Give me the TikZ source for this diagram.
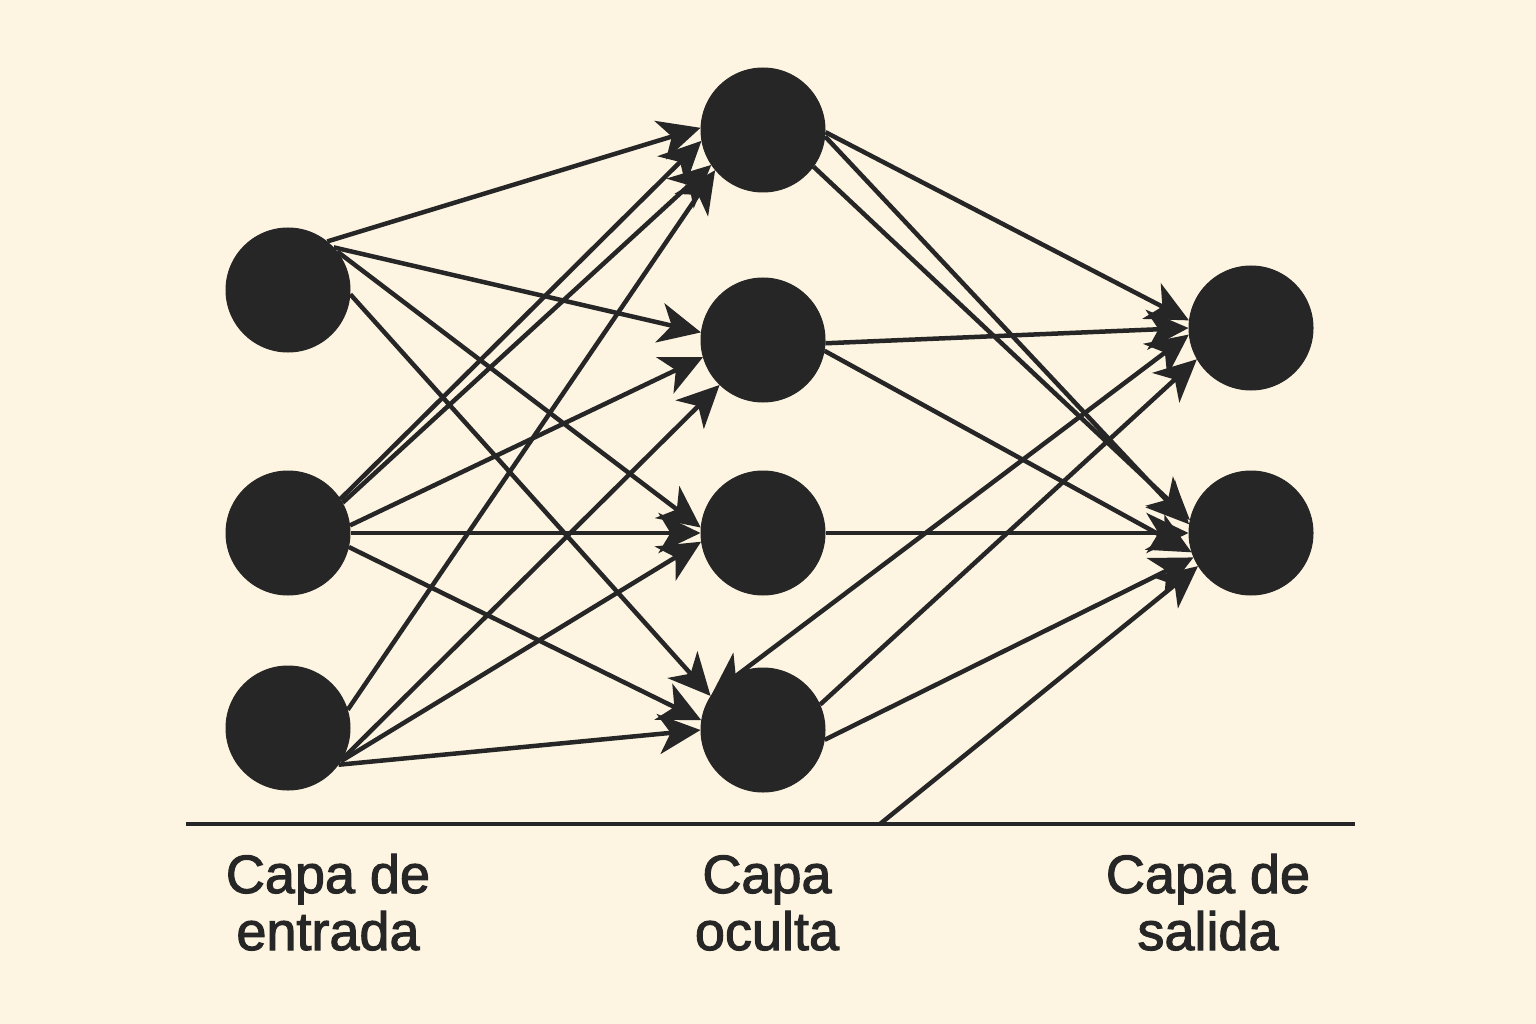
\documentclass[tikz,border=0pt]{standalone}
\usepackage{fontspec}
\setmainfont{Liberation Sans}
\newfontfamily\lblfont{Liberation Sans}[FakeBold=2]
\usetikzlibrary{arrows.meta}
\definecolor{bgc}{HTML}{FDF5E2}
\definecolor{ink}{HTML}{262626}
\tikzset{
  neuron/.style={circle,fill=ink,draw=ink,line width=1pt,minimum size=124pt,inner sep=0pt},
  tipk/.tip={Stealth[length=42pt,width=40pt,inset=12pt]},
  conn/.style={draw=ink,line width=4.5pt,-tipk},
  biconn/.style={draw=ink,line width=4.5pt,tipk-tipk},
  lbl/.style={text=ink,align=center,font=\lblfont\fontsize{54}{57}\selectfont,inner sep=0pt,anchor=base}
}
\begin{document}
\begin{tikzpicture}[x=1pt,y=-1pt]
\fill[bgc] (0,0) rectangle (1536,1024);
\useasboundingbox (0,0) rectangle (1536,1024);
% nodes
\node[neuron] (i1) at (288,290) {};
\node[neuron] (i2) at (288,533) {};
\node[neuron] (i3) at (288,728) {};
\node[neuron] (h1) at (763,130) {};
\node[neuron] (h2) at (763,340) {};
\node[neuron] (h3) at (763,533) {};
\node[neuron] (h4) at (763,730) {};
\node[neuron] (o1) at (1251,328) {};
\node[neuron] (o2) at (1251,533) {};
% baseline
\coordinate (bl) at (186,824);
\coordinate (br) at (1355,824);
\coordinate (b) at (880,824);
\draw[ink,line width=4pt] (bl) -- (br);
% input -> hidden
\draw[conn] (i1.51) -- (h1.178);
\draw[conn] (i1.43) -- (h2.173);
\draw[conn] (i1.38) -- (h3.175);
\draw[conn] (i1.-4) -- (h4.147);
\draw[conn] (i2.33) -- (h1.190);
\draw[conn] (i2.29) -- (h1.214);
\draw[conn] (i3.17) -- (h1.220);
\draw[conn] (i2.7) -- (h2.196);
\draw[conn] (i3.-30) -- (h2.226);
\draw[conn] (i2.0) -- (h3.180);
\draw[conn] (i3.-32) -- (h3.188);
\draw[conn] (i2.-13) -- (h4.171);
\draw[conn] (i3.-36) -- (h4.180);
% hidden -> output
\draw[conn] (h1.-2) -- (o1.173);
\draw[conn] (h1.-6) -- (o2.172);
\draw[conn] (h1.-36) -- (o2.168);
\draw[conn] (h2.-3) -- (o1.180);
\draw[conn] (h2.-10) -- (o2.198);
\draw[conn] (h3.0) -- (o2.180);
\draw[conn] (h4.24) -- (o1.210);
\draw[conn] (h4.-9) -- (o2.203);
\draw[biconn] (o1.186) -- (h4.145);
\draw[conn] (b) -- (o2.212);
% labels
\node[lbl] (t1) at (328,950) {Capa de\\entrada};
\node[lbl] (t2) at (767,950) {Capa\\oculta};
\node[lbl] (t3) at (1208,950) {Capa de\\salida};
\end{tikzpicture}
\end{document}
